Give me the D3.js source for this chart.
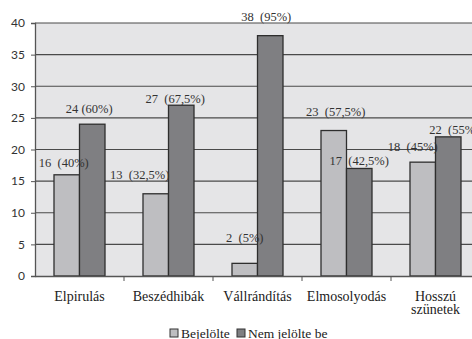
<!DOCTYPE html>
<html>
<head>
<meta charset="utf-8">
<script src="https://cdn.jsdelivr.net/npm/d3@7"></script>
<style>
  body { margin: 0; background: #fff; }
  svg { display: block; }
</style>
</head>
<body>
<div id="chart"></div>
<script>
// categories and the two answer groups
var categories = ["Elpirulás", "Beszédhibák", "Vállrándítás", "Elmosolyodás", "Hosszú szünetek"];
var seriesNames = ["Bejelölte", "Nem jelölte be"];
var marked = [16, 13, 2, 23, 18];
var notMarked = [24, 27, 38, 17, 22];
var markedLabels = ["16  (40%)", "13  (32,5%)", "2  (5%)", "23  (57,5%)", "18  (45%)"];
var notMarkedLabels = ["24 (60%)", "27  (67,5%)", "38  (95%)", "17  (42,5%)", "22  (55%)"];
var yTicks = [0, 5, 10, 15, 20, 25, 30, 35, 40];

// hand nudges for the value labels [dx, gap above bar]
var markedNudge = [[-3, 8], [-16, 15], [0, 21], [2, 15], [-10, 11]];
var notMarkedNudge = [[-3, 11], [-6, 2], [-4, 15], [0, 3], [6, 3]];

var W = 472, H = 339;
var margin = {top: 23, right: -8, bottom: 63, left: 35};
var w = W - margin.left - margin.right;
var h = H - margin.top - margin.bottom;

var svg = d3.select("#chart").append("svg")
    .attr("width", W)
    .attr("height", H)
  .append("g")
    .attr("transform", "translate(" + margin.left + "," + margin.top + ")");

var x = d3.scaleBand().domain(categories).range([0, w]).padding(0);
var x1 = d3.scaleBand().domain(seriesNames).range([0, 51]);
var y = d3.scaleLinear().domain([0, 40]).range([h, 0]);
var colors = ["#bebec1", "#7f7f82"];

svg.append("rect")
    .attr("width", w).attr("height", h)
    .style("fill", "#e5e5e7");

svg.selectAll("line.grid").data(yTicks.slice(1)).enter()
  .append("line")
    .attr("class", "grid")
    .attr("x1", 0).attr("x2", w)
    .attr("y1", function(d) { return y(d); })
    .attr("y2", function(d) { return y(d); })
    .style("stroke", "#4a4a4a")
    .style("stroke-width", 1.1);

var groups = [
  {name: seriesNames[0], values: marked, labels: markedLabels, nudge: markedNudge, color: colors[0]},
  {name: seriesNames[1], values: notMarked, labels: notMarkedLabels, nudge: notMarkedNudge, color: colors[1]}
];

var off = (x.bandwidth() - 51) / 2;

groups.forEach(function(g) {
  svg.selectAll(null).data(g.values).enter()
    .append("rect")
      .attr("x", function(d, i) { return x(categories[i]) + off + x1(g.name); })
      .attr("y", function(d) { return y(d); })
      .attr("width", x1.bandwidth())
      .attr("height", function(d) { return h - y(d); })
      .style("fill", g.color)
      .style("stroke", "#2e2e2e")
      .style("stroke-width", 1.3);
});

groups.forEach(function(g) {
  svg.selectAll(null).data(g.values).enter()
    .append("text")
      .attr("x", function(d, i) { return x(categories[i]) + off + x1(g.name) + x1.bandwidth() / 2 + g.nudge[i][0]; })
      .attr("y", function(d, i) { return y(d) - g.nudge[i][1]; })
      .attr("text-anchor", "middle")
      .style("white-space", "pre")
      .style("font-family", "'Liberation Serif', serif")
      .style("font-size", "12.5px")
      .style("fill", "#333")
      .text(function(d, i) { return g.labels[i]; });
});

// axes
var yAxis = svg.append("g")
    .call(d3.axisLeft(y).tickValues(yTicks).tickSize(4).tickPadding(6));
yAxis.select(".domain").style("stroke", "#555").style("stroke-width", 1.3);
yAxis.selectAll(".tick line").style("stroke", "#555");
yAxis.selectAll("text")
    .style("font-family", "Lato, sans-serif")
    .style("font-size", "12px")
    .style("fill", "#333");

var xAxis = svg.append("g")
    .attr("transform", "translate(0," + h + ")")
    .call(d3.axisBottom(x).tickSize(0).tickPadding(15));
xAxis.select(".domain").style("stroke", "#555").style("stroke-width", 1.3);
xAxis.selectAll("text")
    .style("font-family", "'Liberation Serif', serif")
    .style("font-size", "14px")
    .style("fill", "#222")
    .each(function(d) {
      var words = d.split(" ");
      if (words.length > 1) {
        var t = d3.select(this).text(null);
        words.forEach(function(wd, k) {
          t.append("tspan").attr("x", 0).attr("dy", k === 0 ? "0.71em" : "0.95em").text(wd);
        });
      }
    });

svg.selectAll("line.xtick").data(categories.slice(1)).enter()
  .append("line")
    .attr("x1", function(d) { return x(d); })
    .attr("x2", function(d) { return x(d); })
    .attr("y1", h).attr("y2", h + 5)
    .style("stroke", "#555");

// legend
var legend = svg.append("g")
    .attr("transform", "translate(" + (170 - margin.left) + "," + (333 - margin.top) + ")");
var lx = [0, 67];
seriesNames.forEach(function(s, i) {
  legend.append("rect")
      .attr("x", lx[i]).attr("y", -4)
      .attr("width", 8).attr("height", 8)
      .style("fill", colors[i])
      .style("stroke", "#333");
  legend.append("text")
      .attr("x", lx[i] + 11).attr("y", 4.5)
      .style("font-family", "'Liberation Serif', serif")
      .style("font-size", "13.5px")
      .style("fill", "#222")
      .text(s);
});
</script>
</body>
</html>
